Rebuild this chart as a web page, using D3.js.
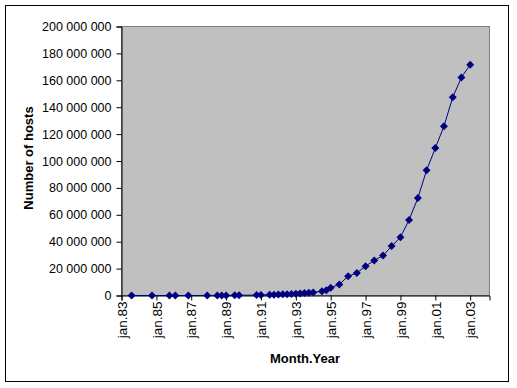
<!DOCTYPE html>
<html>
<head>
<meta charset="utf-8">
<script src="https://cdn.jsdelivr.net/npm/d3@7"></script>
<style>
  body { margin: 0; background: #fff; }
  text { font-family: "Liberation Sans", Arial, sans-serif; }
</style>
</head>
<body>
<svg width="517" height="388"></svg>
<script>
// survey dates (year, month) and host counts
const dates = [
  [1983, 8], [1984, 10], [1985, 10], [1986, 2], [1986, 11], [1987, 12],
  [1988, 7], [1988, 10], [1989, 1], [1989, 7], [1989, 10], [1990, 10],
  [1991, 1], [1991, 7], [1991, 10], [1992, 1], [1992, 4], [1992, 7], [1992, 10],
  [1993, 1], [1993, 4], [1993, 7], [1993, 10], [1994, 1], [1994, 7], [1994, 10],
  [1995, 1], [1995, 7], [1996, 1], [1996, 7], [1997, 1], [1997, 7],
  [1998, 1], [1998, 7], [1999, 1], [1999, 7], [2000, 1], [2000, 7],
  [2001, 1], [2001, 7], [2002, 1], [2002, 7], [2003, 1]
];
const hosts = [
  562, 1024, 1961, 2308, 5089, 28174,
  33000, 56000, 80000, 130000, 159000, 313000,
  376000, 535000, 617000, 727000, 890000, 992000, 1136000,
  1313000, 1486000, 1776000, 2056000, 2217000, 3212000, 3864000,
  5846000, 8200000, 14352000, 16729000, 21819000, 26053000,
  29670000, 36739000, 43230000, 56218000, 72398092, 93047785,
  109574429, 125888197, 147344723, 162128493, 171638297
];
const yTicks = [0, 20e6, 40e6, 60e6, 80e6, 100e6, 120e6, 140e6, 160e6, 180e6, 200e6];
const xTickYears = [1983, 1985, 1987, 1989, 1991, 1993, 1995, 1997, 1999, 2001, 2003];

const data = dates.map((d, i) => ({date: new Date(d[0], d[1] - 1, 1), value: hosts[i]}));

const svg = d3.select("svg");
const pLeft = 121.5, pRight = 489.5, pTop = 26.5, pBottom = 295.5;

// outer chart frame
svg.append("rect")
    .attr("x", 5.5).attr("y", 5.5)
    .attr("width", 503).attr("height", 376)
    .attr("fill", "#fff").attr("stroke", "#000");

const x = d3.scaleTime()
    .domain([new Date(1983, 0, 1), new Date(2004, 1, 10)])
    .range([pLeft, pRight]);
const y = d3.scaleLinear()
    .domain([0, 200e6])
    .range([pBottom, pTop]);

// plot area
svg.append("rect")
    .attr("x", pLeft).attr("y", pTop)
    .attr("width", pRight - pLeft).attr("height", pBottom - pTop)
    .attr("fill", "#c0c0c0").attr("stroke", "#808080");

const loc = d3.formatLocale({decimal: ",", thousands: " ", grouping: [3], currency: ["", ""]});
const fmt = loc.format(",d");

const yAxis = svg.append("g")
    .attr("transform", `translate(${pLeft},0)`)
    .call(d3.axisLeft(y).tickValues(yTicks).tickFormat(fmt).tickSize(5).tickPadding(5));

const xAxis = svg.append("g")
    .attr("transform", `translate(0,${pBottom})`)
    .call(d3.axisBottom(x)
        .tickValues(xTickYears.map(yr => new Date(yr, 0, 1)))
        .tickFormat(d => "jan." + d3.timeFormat("%y")(d))
        .tickSize(5));

[yAxis, xAxis].forEach(a => {
  a.select(".domain").attr("stroke", "#000");
  a.selectAll(".tick line").attr("stroke", "#000");
  a.selectAll("text").attr("fill", "#000").style("font-size", "12.5px");
});

xAxis.selectAll(".tick text")
    .style("font-size", "13.5px")
    .attr("transform", "rotate(-90)")
    .attr("text-anchor", "end")
    .attr("x", -6)
    .attr("y", 0)
    .attr("dy", "0.35em");

// series
const line = d3.line().x(d => x(d.date)).y(d => y(d.value));
svg.append("path")
    .datum(data)
    .attr("d", line)
    .attr("fill", "none")
    .attr("stroke", "#000080")
    .attr("stroke-width", 1);

svg.append("g")
    .selectAll("path")
    .data(data)
    .join("path")
    .attr("transform", d => `translate(${x(d.date)},${y(d.value)})`)
    .attr("d", "M0,-4L4,0L0,4L-4,0Z")
    .attr("fill", "#000080");

// axis titles
svg.append("text")
    .attr("transform", "translate(33,158) rotate(-90)")
    .attr("text-anchor", "middle")
    .style("font-size", "13px")
    .style("font-weight", "bold")
    .text("Number of hosts");

svg.append("text")
    .attr("x", 305).attr("y", 363)
    .attr("text-anchor", "middle")
    .style("font-size", "13px")
    .style("font-weight", "bold")
    .text("Month.Year");
</script>
</body>
</html>
